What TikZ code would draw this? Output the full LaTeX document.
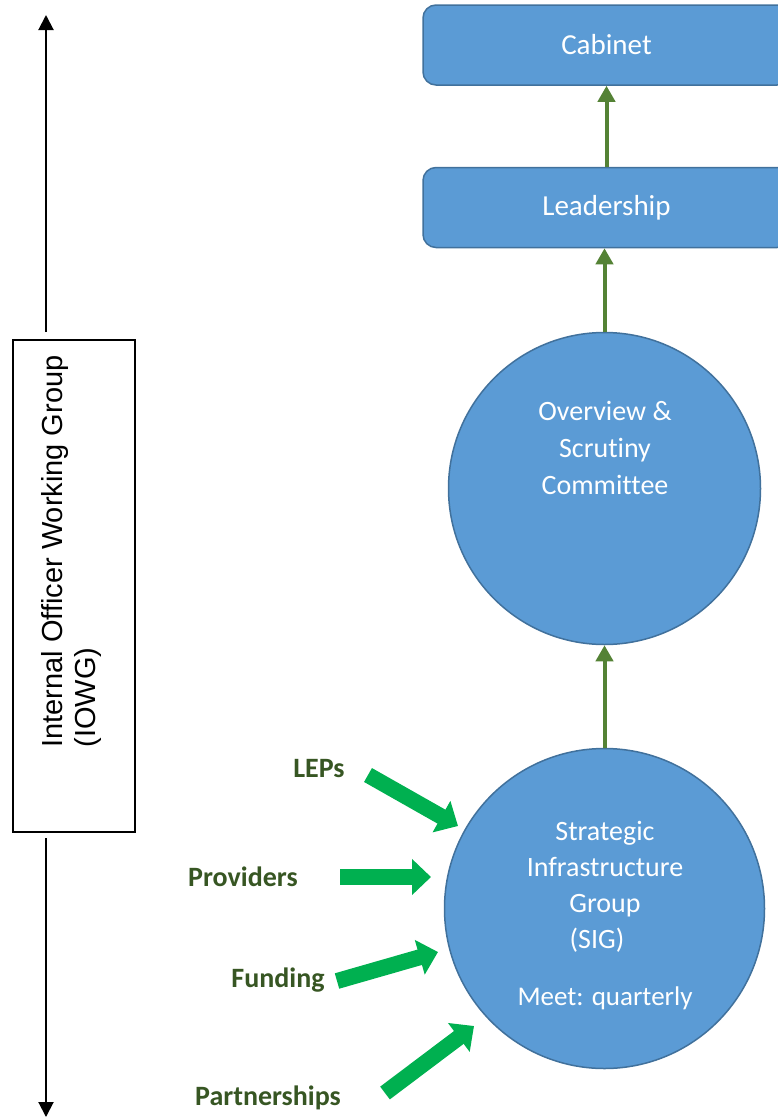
\documentclass[tikz,border=0pt]{standalone}
\usepackage{fontspec}
\setmainfont{Carlito}[Ligatures={NoCommon}]
\newfontfamily\arialf{Liberation Sans}
\usetikzlibrary{arrows.meta}
\definecolor{boxblue}{HTML}{5B9BD5}
\definecolor{boxedge}{HTML}{41719C}
\definecolor{linkgreen}{HTML}{548235}
\definecolor{biggreen}{HTML}{00B050}
\definecolor{labelgreen}{HTML}{375623}
\begin{document}
\begin{tikzpicture}[x=1pt,y=-1pt,
 bluebox/.style={draw=boxedge, line width=1.5pt, fill=boxblue, rounded corners=13pt, text=white, font=\fontsize{29}{35}\selectfont, inner sep=0pt},
 bluecircle/.style={circle, draw=boxedge, line width=1.5pt, fill=boxblue, inner sep=0pt},
 circletext/.style={text=white, align=center, font=\fontsize{28}{36}\selectfont, inner sep=0pt},
 linkarrow/.style={draw=linkgreen, line width=4pt, -{Triangle[length=16pt,width=17pt]}},
 bigarrow/.style={draw=biggreen, line width=16pt, -{Triangle[length=19pt,width=35pt]}},
 inlabel/.style={text=labelgreen, font=\bfseries\fontsize{28}{32}\selectfont, inner sep=0pt},
 sidearrow/.style={draw=black, line width=2pt, -{Triangle[length=15pt,width=15pt]}}
]
\useasboundingbox (0,0) rectangle (778,1119);

% right column
\node[bluebox, minimum width=367pt, minimum height=80pt] (cab) at (606.5,45) {Cabinet};
\node[bluebox, minimum width=367pt, minimum height=80pt] (lead) at (606.5,207.5) {Leadership};
\node[bluecircle, minimum size=312pt] (ovw) at (604.5,488.5) {};
\node[circletext, font=\fontsize{28}{37}\selectfont] (ovwtext) at (605,448) {Overview \&\\Scrutiny\\Committee};
\node[bluecircle, minimum size=320pt] (sig) at (604.5,908.5) {};
\node[circletext] (sigtext) at (605,887) {Strategic\\Infrastructure\\Group\\(SIG)\hspace*{16pt}};
\node[circletext, font=\fontsize{27}{32}\selectfont] (sigmeet) at (605,998) {Meet: quarterly};

\draw[linkarrow] (lead.north -| cab.south) -- (cab.south);
\draw[linkarrow] (ovw.north) -- (ovw.north |- lead.south);
\draw[linkarrow] (sig.north) -- (sig.north |- ovw.south);

% input labels and arrows
\node[inlabel] (leps) at (319,769) {LEPs};
\node[inlabel] (prov) at (243,877) {Providers};
\node[inlabel] (fund) at (278,980) {Funding};
\node[inlabel] (part) at (268,1098) {Partnerships};

\coordinate (lepsT) at (368,775);
\coordinate (lepsH) at (458,826);
\coordinate (provT) at (340,877);
\coordinate (provH) at (431,877);
\coordinate (fundT) at (337,981);
\coordinate (fundH) at (438,952);
\coordinate (partT) at (385,1093);
\coordinate (partH) at (474,1026);
\draw[bigarrow] (lepsT) -- (lepsH);
\draw[bigarrow] (provT) -- (provH);
\draw[bigarrow] (fundT) -- (fundH);
\draw[bigarrow] (partT) -- (partH);

% IOWG
\node[draw=black, line width=2pt, minimum width=122pt, minimum height=492pt, inner sep=0pt] (iowg) at (74,585.5) {};
\node[rotate=90, align=left, font=\arialf\fontsize{29}{33}\selectfont, inner sep=0pt] (iowgtext) at (71.5,551.5) {Internal Officer Working Group\\(IOWG)};
\coordinate (upS) at (46,332);
\coordinate (upE) at (46,15);
\coordinate (dnS) at (46,838);
\coordinate (dnE) at (46,1117);
\draw[sidearrow] (upS) -- (upE);
\draw[sidearrow] (dnS) -- (dnE);
\end{tikzpicture}
\end{document}
